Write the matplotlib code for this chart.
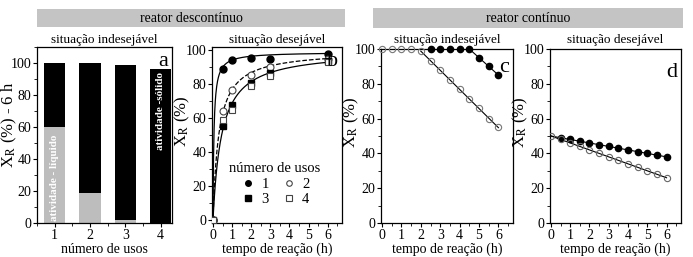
import numpy as np
import matplotlib
matplotlib.use("Agg")
import matplotlib.pyplot as plt
from matplotlib.ticker import MultipleLocator

plt.rcParams['font.family'] = ['Liberation Serif', 'DejaVu Serif']
plt.rcParams['mathtext.fontset'] = 'stix'
plt.rcParams['font.size'] = 10

# ---------------- data ----------------
# panel a
usos = [1, 2, 3, 4]
xr_total = [100, 100, 99, 96]
xr_liquido = [60, 19, 2, 0]

# panel b (batch reactor, desirable)
t_b = [0, 0.5, 1, 2, 3, 6]
b_uso1 = [0, 89, 94.5, 95.5, 95, 97.7]
b_uso2 = [0, 64.5, 77, 85.5, 90.5, 95]
b_uso3 = [0, 55.5, 68, 81, 86.5, 94]
b_uso4 = [0, 59, 65, 79, 85, 93]
# hyperbolic fit parameters (Xmax, K) for curves: uso1, uso2, uso3/4
fit_xmax = [99, 100, 100]
fit_k = [0.05, 0.30, 0.45]
fit_styles = ['-', '--', '-']

# panel c (continuous, undesirable)
t_c_open = [0, 0.5, 1, 1.5, 2, 2.5, 3, 3.5, 4, 4.5, 5, 5.5, 6]
c_open = [100, 100, 100, 100, 99, 93, 88, 82, 77, 71, 66, 60, 55]
t_c_fill = [2.5, 3, 3.5, 4, 4.5, 5, 5.5, 6]
c_fill = [100, 100, 100, 100, 100, 95, 90, 85]

# panel d (continuous, desirable)
t_d_open = [0, 0.5, 1, 1.5, 2, 2.5, 3, 3.5, 4, 4.5, 5, 5.5, 6]
d_open = [50, 48, 46, 44, 42, 40, 38, 36, 34, 32, 30, 28, 26]
t_d_fill = [0.5, 1, 1.5, 2, 2.5, 3, 3.5, 4, 4.5, 5, 5.5, 6]
d_fill = [49, 48, 47, 46, 45, 44, 43, 42, 41, 40, 39, 38]

W, H = 693, 257
fig = plt.figure(figsize=(W / 100, H / 100), dpi=100)

TITLE_FS = 9.5
XLAB_FS = 10
YLAB_FS = 12


def box(l, r, t, b):
    return [l / W, 1 - b / H, (r - l) / W, (b - t) / H]


def style(ax):
    ax.tick_params(direction='out', length=3, width=0.8, labelsize=10, pad=1)
    ax.tick_params(which='minor', direction='out', length=2, width=0.6)
    for s in ax.spines.values():
        s.set_linewidth(0.9)


# ---- panel a ----
axa = fig.add_axes(box(37, 172, 47, 223))
sol = [t - l for t, l in zip(xr_total, xr_liquido)]
axa.bar(usos, xr_liquido, width=0.6, color='#bdbdbd', zorder=2)
axa.bar(usos, sol, bottom=xr_liquido, width=0.6, color='black', zorder=2)
axa.set_xlim(0.5, 4.32)
axa.set_ylim(0, 110)
axa.set_xticks(usos)
axa.xaxis.set_minor_locator(MultipleLocator(0.5))
axa.yaxis.set_major_locator(MultipleLocator(20))
axa.yaxis.set_minor_locator(MultipleLocator(10))
style(axa)
axa.set_xlabel('número de usos', fontsize=XLAB_FS, labelpad=1)
axa.set_ylabel(r'X$_\mathrm{R}$ (%) - 6 h', fontsize=YLAB_FS)
axa.yaxis.set_label_coords(-0.135, 0.56)
axa.text(0.97, 0.97, 'a', transform=axa.transAxes, ha='right', va='top', fontsize=16)
axa.text(usos[0], 1, 'atividade - líquido', rotation=90, ha='center', va='bottom',
         color='white', fontsize=8, fontweight='bold', zorder=3)
axa.text(usos[3], 94.5, 'atividade -sólido', rotation=90, ha='center', va='top',
         color='white', fontsize=8, fontweight='bold', zorder=3)
axa.set_title('situação indesejável', fontsize=TITLE_FS, pad=3)

# ---- panel b ----
axb = fig.add_axes(box(212, 342, 47, 223))
tt = np.linspace(0, 6, 400)
for xm, k, ls in zip(fit_xmax, fit_k, fit_styles):
    axb.plot(tt, xm * tt / (k + tt), ls, color='black', lw=0.9, zorder=2)
h1, = axb.plot(t_b, b_uso1, 'o', ms=5, color='black', ls='none', label='1', zorder=3)
h2, = axb.plot(t_b, b_uso2, 'o', ms=5, mfc='white', mec='#444444', mew=0.8, ls='none', label='2', zorder=3)
h3, = axb.plot(t_b, b_uso3, 's', ms=4.5, color='black', ls='none', label='3', zorder=3)
h4, = axb.plot(t_b, b_uso4, 's', ms=4.5, mfc='white', mec='#444444', mew=0.8, ls='none', label='4', zorder=3)
axb.set_xlim(-0.05, 6.75)
axb.set_ylim(-1.5, 102)
axb.xaxis.set_major_locator(MultipleLocator(1))
axb.xaxis.set_minor_locator(MultipleLocator(0.5))
axb.yaxis.set_major_locator(MultipleLocator(20))
axb.yaxis.set_minor_locator(MultipleLocator(10))
style(axb)
axb.set_xlabel('tempo de reação (h)', fontsize=XLAB_FS, labelpad=1)
axb.set_ylabel(r'X$_\mathrm{R}$ (%)', fontsize=YLAB_FS)
axb.yaxis.set_label_coords(-0.155, 0.58)
axb.text(0.97, 0.97, 'b', transform=axb.transAxes, ha='right', va='top', fontsize=16)
axb.set_title('situação desejável', fontsize=TITLE_FS, pad=3)
leg = axb.legend([h1, h3, h2, h4], ['1', '3', '2', '4'], ncol=2, title='número de usos',
                 frameon=False, fontsize=10.5, title_fontsize=10.5, loc='center',
                 bbox_to_anchor=(0.48, 0.22), handletextpad=0.3, columnspacing=0.8,
                 labelspacing=0.15, handlelength=1.2, borderpad=0.1)
for hd in leg.legend_handles:
    hd.set_markersize(4)

# ---- panel c ----
axc = fig.add_axes(box(381, 513, 49, 223))
pc_o = np.polyfit(t_c_open[4:], c_open[4:], 1)
tl = np.array([t_c_open[4], t_c_open[-1]])
axc.plot(tl, np.polyval(pc_o, tl), '-', color='black', lw=0.8, zorder=2)
pc_f = np.polyfit(t_c_fill[4:], c_fill[4:], 1)
tl2 = np.array([t_c_fill[4], t_c_fill[-1]])
axc.plot(tl2, np.polyval(pc_f, tl2), '-', color='black', lw=0.8, zorder=2)
axc.plot(t_c_fill, c_fill, 'o', ms=4.5, color='black', ls='none', clip_on=False, zorder=3)
axc.plot(t_c_open, c_open, 'o', ms=4.5, mfc='none', mec='#777777', mew=0.8, ls='none', clip_on=False, zorder=3)
axc.set_xlim(-0.05, 6.75)
axc.set_ylim(0, 100)
axc.xaxis.set_major_locator(MultipleLocator(1))
axc.xaxis.set_minor_locator(MultipleLocator(0.5))
axc.yaxis.set_major_locator(MultipleLocator(20))
axc.yaxis.set_minor_locator(MultipleLocator(10))
style(axc)
axc.set_xlabel('tempo de reação (h)', fontsize=XLAB_FS, labelpad=1)
axc.set_ylabel(r'X$_\mathrm{R}$ (%)', fontsize=YLAB_FS)
axc.yaxis.set_label_coords(-0.15, 0.58)
axc.text(0.97, 0.95, 'c', transform=axc.transAxes, ha='right', va='top', fontsize=16)
axc.set_title('situação indesejável', fontsize=TITLE_FS, pad=4)

# ---- panel d ----
axd = fig.add_axes(box(550, 681, 49, 223))
tl3 = np.array([0, 6])
pd_o = np.polyfit(t_d_open, d_open, 1)
pd_f = np.polyfit(t_d_fill, d_fill, 1)
axd.plot(tl3, np.polyval(pd_o, tl3), '-', color='black', lw=0.8, zorder=2)
axd.plot(tl3, np.polyval(pd_f, tl3), '-', color='black', lw=0.8, zorder=2)
axd.plot(t_d_fill, d_fill, 'o', ms=4.5, color='black', ls='none', zorder=3)
axd.plot(t_d_open, d_open, 'o', ms=4.5, mfc='none', mec='#666666', mew=0.8, ls='none', zorder=3)
axd.set_xlim(-0.05, 6.75)
axd.set_ylim(0, 100)
axd.xaxis.set_major_locator(MultipleLocator(1))
axd.xaxis.set_minor_locator(MultipleLocator(0.5))
axd.yaxis.set_major_locator(MultipleLocator(20))
axd.yaxis.set_minor_locator(MultipleLocator(10))
style(axd)
axd.set_xlabel('tempo de reação (h)', fontsize=XLAB_FS, labelpad=1)
axd.set_ylabel(r'X$_\mathrm{R}$ (%)', fontsize=YLAB_FS)
axd.yaxis.set_label_coords(-0.155, 0.58)
axd.text(0.97, 0.92, 'd', transform=axd.transAxes, ha='right', va='top', fontsize=16)
axd.set_title('situação desejável', fontsize=TITLE_FS, pad=4)

# ---- header boxes ----
for (l, r, t, b, txt) in [(37, 345, 9, 27, 'reator descontínuo'),
                          (373, 683, 8, 28, 'reator contínuo')]:
    bx = box(l, r, t, b)
    fig.patches.append(matplotlib.patches.Rectangle((bx[0], bx[1]), bx[2], bx[3],
                       transform=fig.transFigure, facecolor='#c4c4c4', edgecolor='none'))
    fig.text(bx[0] + bx[2] / 2, bx[1] + bx[3] / 2, txt, ha='center', va='center', fontsize=10)

fig.savefig('out.png', dpi=100)
